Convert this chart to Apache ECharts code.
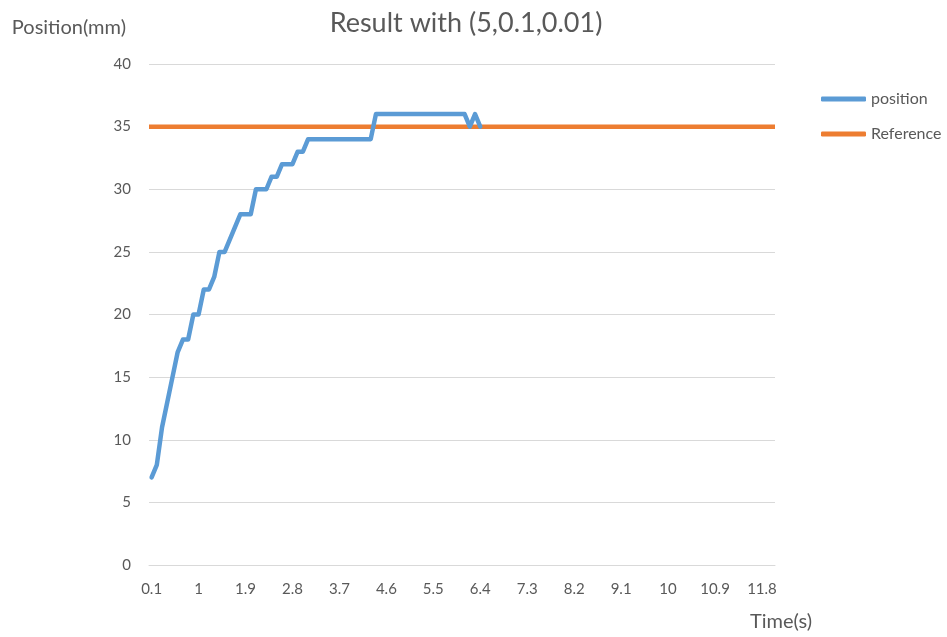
<!DOCTYPE html>
<html>
<head>
<meta charset="utf-8">
<script src="https://cdn.jsdelivr.net/npm/echarts@6/dist/echarts.min.js"></script>
<style>
  html, body { margin: 0; padding: 0; background: #fff; }
  #chart { width: 947px; height: 637px; }
</style>
</head>
<body>
<div id="chart"></div>
<script>
// time axis (s)
const times = [
  '0.1', '0.2', '0.3', '0.4', '0.5', '0.6', '0.7', '0.8', '0.9', '1',
  '1.1', '1.2', '1.3', '1.4', '1.5', '1.6', '1.7', '1.8', '1.9', '2',
  '2.1', '2.2', '2.3', '2.4', '2.5', '2.6', '2.7', '2.8', '2.9', '3',
  '3.1', '3.2', '3.3', '3.4', '3.5', '3.6', '3.7', '3.8', '3.9', '4',
  '4.1', '4.2', '4.3', '4.4', '4.5', '4.6', '4.7', '4.8', '4.9', '5',
  '5.1', '5.2', '5.3', '5.4', '5.5', '5.6', '5.7', '5.8', '5.9', '6',
  '6.1', '6.2', '6.3', '6.4', '6.5', '6.6', '6.7', '6.8', '6.9', '7',
  '7.1', '7.2', '7.3', '7.4', '7.5', '7.6', '7.7', '7.8', '7.9', '8',
  '8.1', '8.2', '8.3', '8.4', '8.5', '8.6', '8.7', '8.8', '8.9', '9',
  '9.1', '9.2', '9.3', '9.4', '9.5', '9.6', '9.7', '9.8', '9.9', '10',
  '10.1', '10.2', '10.3', '10.4', '10.5', '10.6', '10.7', '10.8', '10.9', '11',
  '11.1', '11.2', '11.3', '11.4', '11.5', '11.6', '11.7', '11.8', '11.9', '12'
]

// measured position (mm), recorded until 6.4 s
const position = [
  7, 8, 11, 13, 15, 17, 18, 18, 20, 20,
  22, 22, 23, 25, 25, 26, 27, 28, 28, 28,
  30, 30, 30, 31, 31, 32, 32, 32, 33, 33,
  34, 34, 34, 34, 34, 34, 34, 34, 34, 34,
  34, 34, 34, 36, 36, 36, 36, 36, 36, 36,
  36, 36, 36, 36, 36, 36, 36, 36, 36, 36,
  36, 35, 36, 35
]

// set point (mm)
const reference = [
  35, 35, 35, 35, 35, 35, 35, 35, 35, 35,
  35, 35, 35, 35, 35, 35, 35, 35, 35, 35,
  35, 35, 35, 35, 35, 35, 35, 35, 35, 35,
  35, 35, 35, 35, 35, 35, 35, 35, 35, 35,
  35, 35, 35, 35, 35, 35, 35, 35, 35, 35,
  35, 35, 35, 35, 35, 35, 35, 35, 35, 35,
  35, 35, 35, 35, 35, 35, 35, 35, 35, 35,
  35, 35, 35, 35, 35, 35, 35, 35, 35, 35,
  35, 35, 35, 35, 35, 35, 35, 35, 35, 35,
  35, 35, 35, 35, 35, 35, 35, 35, 35, 35,
  35, 35, 35, 35, 35, 35, 35, 35, 35, 35,
  35, 35, 35, 35, 35, 35, 35, 35, 35, 35
]

const textColor = '#595959'
const font = 'Lato'

const chart = echarts.init(document.getElementById('chart'))
chart.setOption({
  animation: false,
  color: ['#5B9BD5', '#ED7D31'],
  title: {
    text: 'Result with (5,0.1,0.01)',
    left: 461,
    textAlign: 'center',
    top: 5,
    textStyle: { color: textColor, fontSize: 27, fontWeight: 'normal', fontFamily: font }
  },
  legend: {
    orient: 'vertical',
    left: 816,
    top: 86,
    itemWidth: 45,
    itemHeight: 5,
    itemGap: 19,
    icon: 'roundRect',
    textStyle: { color: textColor, fontSize: 16, fontFamily: font },
    data: ['position', 'Reference']
  },
  grid: {
    left: 149,
    right: 172,
    top: 64,
    bottom: 72
  },
  xAxis: [
    {
      type: 'category',
      data: times,
      boundaryGap: true,
      name: 'Time(s)',
      nameLocation: 'end',
      nameGap: 37,
      nameTextStyle: {
        color: textColor, fontSize: 20, fontFamily: font,
        align: 'right', verticalAlign: 'top', padding: [47, 0, 0, 0]
      },
      axisLine: { show: true, lineStyle: { color: '#d9d9d9', width: 1 } },
      axisTick: { show: false },
      axisLabel: { interval: 8, color: textColor, fontSize: 15, fontFamily: font, margin: 17 }
    },
    {
      // same categories, edge to edge, for the set-point line
      type: 'category',
      data: times,
      boundaryGap: false,
      show: false
    }
  ],
  yAxis: {
    type: 'value',
    min: 0,
    max: 40,
    interval: 5,
    name: 'Position(mm)',
    nameLocation: 'end',
    nameGap: 36,
    nameTextStyle: {
      color: textColor, fontSize: 20, fontFamily: font,
      align: 'right', verticalAlign: 'middle', padding: [0, 23, 0, 0]
    },
    axisLine: { show: false },
    axisTick: { show: false },
    axisLabel: { color: textColor, fontSize: 15, fontFamily: font, margin: 18 },
    splitLine: { lineStyle: { color: '#d9d9d9', width: 1 } }
  },
  series: [
    {
      name: 'position',
      type: 'line',
      data: position,
      showSymbol: false,
      symbol: 'none',
      lineStyle: { width: 4.5, cap: 'round', join: 'round' },
      z: 3
    },
    {
      name: 'Reference',
      type: 'line',
      xAxisIndex: 1,
      data: reference,
      showSymbol: false,
      symbol: 'none',
      lineStyle: { width: 4.5 },
      z: 2
    }
  ]
})
</script>
</body>
</html>
